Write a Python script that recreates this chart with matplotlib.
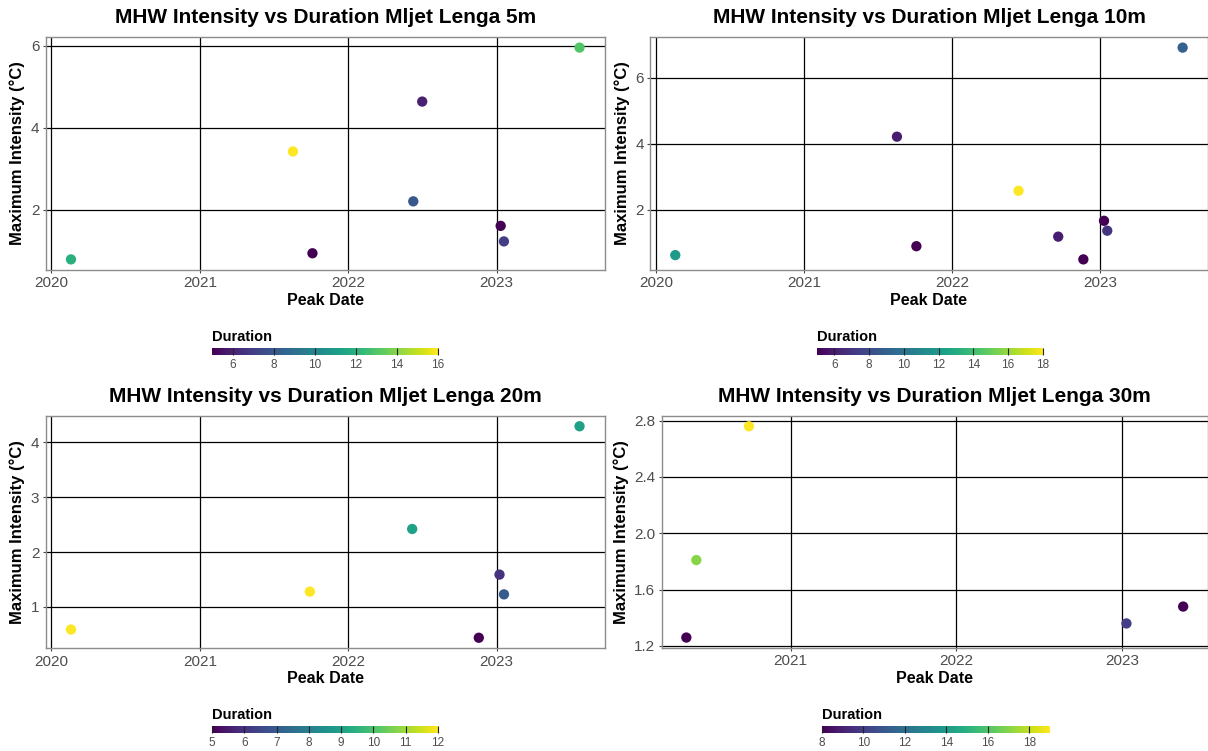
import pandas as pd
import matplotlib.pyplot as plt
import matplotlib.dates as mdates
from matplotlib import cm, colors
from matplotlib.ticker import MultipleLocator

plt.rcParams['font.family'] = ['Liberation Sans', 'DejaVu Sans']

# Mljet Lenga 5m
dates_5m = ["2020-02-19", "2021-08-18", "2021-10-05", "2022-06-10", "2022-07-02",
            "2023-01-11", "2023-01-19", "2023-07-24"]
intensity_5m = [0.78, 3.42, 0.93, 2.20, 4.64, 1.60, 1.22, 5.96]
duration_5m = [12, 16, 5, 8, 6, 5, 7, 13]

# Mljet Lenga 10m
dates_10m = ["2020-02-18", "2021-08-18", "2021-10-05", "2022-06-14", "2022-09-20",
             "2022-11-21", "2023-01-11", "2023-01-19", "2023-07-24"]
intensity_10m = [0.62, 4.21, 0.89, 2.57, 1.18, 0.49, 1.66, 1.36, 6.91]
duration_10m = [12, 6, 5, 18, 6, 5, 5, 7, 9]

# Mljet Lenga 20m
dates_20m = ["2020-02-18", "2021-09-28", "2022-06-07", "2022-11-18", "2023-01-08",
             "2023-01-19", "2023-07-24"]
intensity_20m = [0.59, 1.28, 2.42, 0.44, 1.59, 1.23, 4.29]
duration_20m = [12, 12, 9, 5, 6, 7, 9]

# Mljet Lenga 30m
dates_30m = ["2020-05-16", "2020-06-07", "2020-10-01", "2023-01-11", "2023-05-16"]
intensity_30m = [1.26, 1.81, 2.76, 1.36, 1.48]
duration_30m = [8, 17, 19, 10, 8]

panels = [
    ("5m", dates_5m, intensity_5m, duration_5m, 2, 2),
    ("10m", dates_10m, intensity_10m, duration_10m, 2, 2),
    ("20m", dates_20m, intensity_20m, duration_20m, 1, 1),
    ("30m", dates_30m, intensity_30m, duration_30m, 0.4, 2),
]

# [left, bottom, width, height] in figure fractions
ax_pos = [
    [0.0377, 0.6405, 0.4631, 0.3102],
    [0.5380, 0.6405, 0.4620, 0.3102],
    [0.0377, 0.1367, 0.4631, 0.3098],
    [0.5476, 0.1370, 0.4524, 0.3095],
]
cb_pos = [
    [0.1755, 0.5273, 0.1870, 0.0093],
    [0.6763, 0.5273, 0.1870, 0.0093],
    [0.1755, 0.0240, 0.1870, 0.0093],
    [0.6805, 0.0240, 0.1887, 0.0093],
]

fig = plt.figure(figsize=(12.08, 7.51), dpi=100)

for i, (depth, d, y, dur, ystep, cstep) in enumerate(panels):
    ax = fig.add_axes(ax_pos[i])
    x = pd.to_datetime(d)
    norm = colors.Normalize(vmin=min(dur), vmax=max(dur))
    ax.scatter(x, y, c=dur, cmap='viridis', norm=norm, s=55, linewidths=0, zorder=3)
    ax.margins(0.05)

    ax.xaxis.set_major_locator(mdates.YearLocator())
    ax.xaxis.set_major_formatter(mdates.DateFormatter('%Y'))
    ax.yaxis.set_major_locator(MultipleLocator(ystep))
    if depth == "30m":
        ax.yaxis.set_major_formatter(plt.FormatStrFormatter('%.1f'))

    ax.grid(True, color='black', linewidth=0.9)
    ax.set_axisbelow(True)
    for s in ax.spines.values():
        s.set_color('#8c8c8c')
        s.set_linewidth(1.0)
    ax.tick_params(length=2.5, width=0.8, color='#444444', labelsize=11,
                   labelcolor='#4d4d4d', pad=2)

    ax.set_title(f"MHW Intensity vs Duration Mljet Lenga {depth}",
                 fontsize=15, fontweight='bold', pad=10)
    ax.set_xlabel("Peak Date", fontsize=11.5, fontweight='bold', labelpad=2)
    ax.set_ylabel("Maximum Intensity (°C)", fontsize=12, fontweight='bold', labelpad=4)

    cax = fig.add_axes(cb_pos[i])
    sm = cm.ScalarMappable(norm=norm, cmap='viridis')
    cb = fig.colorbar(sm, cax=cax, orientation='horizontal')
    cb.outline.set_visible(False)
    cb.set_ticks(MultipleLocator(cstep))
    cax.tick_params(direction='in', length=5, width=0.8, color='#222222',
                    labelsize=8.5, labelcolor='#4d4d4d', pad=3)
    cax.set_title("Duration", fontsize=10.5, fontweight='bold', loc='left', pad=5)

fig.savefig("out.png", dpi=100)
